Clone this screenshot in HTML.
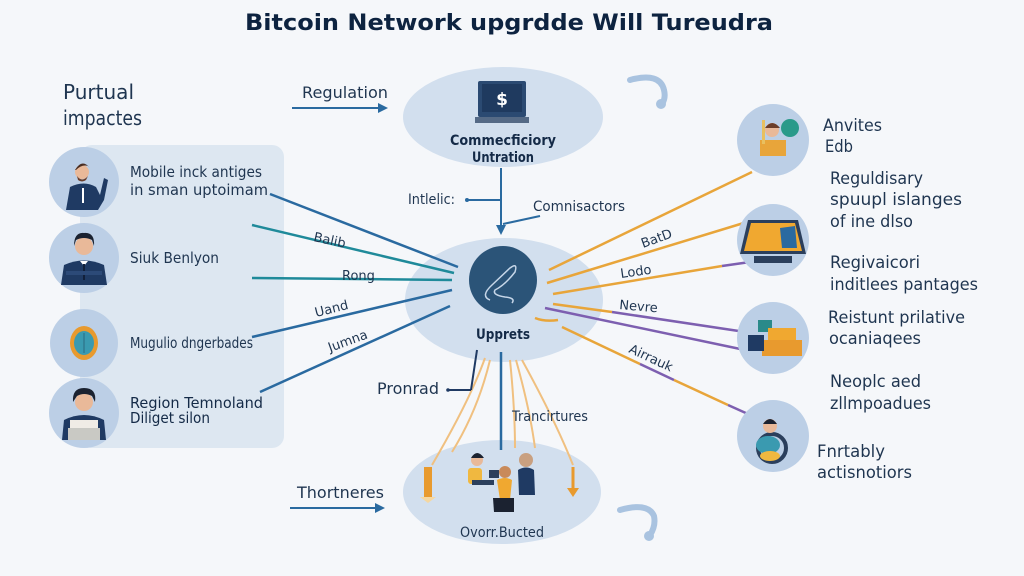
<!DOCTYPE html>
<html><head><meta charset="utf-8"><style>
html,body{margin:0;padding:0;background:#f5f7fa;}
svg{display:block;}
text{font-family:"DejaVu Sans","Liberation Sans",sans-serif;fill:#1f3550;}
</style></head><body>
<svg width="1024" height="576" viewBox="0 0 1024 576" xmlns="http://www.w3.org/2000/svg">
<defs>
<marker id="ah" markerWidth="10" markerHeight="10" refX="8" refY="5" orient="auto" markerUnits="userSpaceOnUse"><path d="M0,0 L10,5 L0,10 Z" fill="#2a6aa0"/></marker>
<marker id="ao" markerWidth="10" markerHeight="10" refX="8" refY="5" orient="auto" markerUnits="userSpaceOnUse"><path d="M0,0 L10,5 L0,10 Z" fill="#e8a53a"/></marker>
</defs>
<rect width="1024" height="576" fill="#f5f7fa"/>

<!-- Title -->
<text x="509" y="30" text-anchor="middle" font-size="22" font-weight="bold" style="fill:#0d2340" textLength="528" lengthAdjust="spacingAndGlyphs">Bitcoin Network upgrdde Will Tureudra</text>

<!-- Left header -->
<text x="63" y="99" font-size="20" textLength="71" lengthAdjust="spacingAndGlyphs">Purtual</text>
<text x="63" y="125" font-size="20" textLength="79" lengthAdjust="spacingAndGlyphs">impactes</text>

<!-- Regulation arrow -->
<text x="302" y="98" font-size="16" textLength="86" lengthAdjust="spacingAndGlyphs">Regulation</text>
<line x1="292" y1="108" x2="386" y2="108" stroke="#2a6aa0" stroke-width="2" marker-end="url(#ah)"/>

<!-- Left panel -->
<rect x="80" y="145" width="204" height="303" rx="12" fill="#dde7f1"/>

<!-- Left circles -->
<circle cx="84" cy="182" r="35" fill="#bccfe6"/>
<circle cx="84" cy="258" r="35" fill="#bccfe6"/>
<circle cx="84" cy="343" r="34" fill="#bccfe6"/>
<circle cx="84" cy="413" r="35" fill="#bccfe6"/>

<!-- person 1 -->
<path d="M66,210 L70,187 Q84,180 96,187 L100,195 L104,178 L108,180 L104,200 L98,210 Z" fill="#1f3a63"/>
<circle cx="82" cy="172" r="7" fill="#e9b999"/>
<path d="M75,170 Q82,158 90,168 L88,166 Q82,164 76,170 Z" fill="#4a2e22"/>
<path d="M77,176 Q82,183 88,176 L86,180 Q82,183 78,180 Z" fill="#6b3e2a"/>
<line x1="83" y1="188" x2="83" y2="203" stroke="#fff" stroke-width="2"/>
<!-- person 2 -->
<path d="M61,285 L64,265 Q84,256 104,265 L107,285 Z" fill="#1f3a63"/>
<circle cx="84" cy="246" r="9" fill="#e9b999"/>
<path d="M74,246 Q74,232 84,233 Q95,232 94,246 L92,240 Q84,236 76,240 Z" fill="#1b2230"/>
<path d="M80,261 L84,266 L88,261 Z" fill="#fff"/>
<line x1="84" y1="264" x2="84" y2="280" stroke="#12203a" stroke-width="2"/>
<rect x="66" y="271" width="36" height="4" fill="#2c4a78"/>
<!-- gear icon -->
<ellipse cx="84" cy="343" rx="14" ry="17" fill="#e89a2e"/>
<ellipse cx="84" cy="343" rx="10" ry="12" fill="#3a9ab0"/>
<line x1="84" y1="333" x2="84" y2="353" stroke="#2a6a80" stroke-width="1"/>
<!-- person 4 -->
<path d="M62,440 L64,420 Q84,410 104,420 L106,440 Z" fill="#1f3a63"/>
<rect x="70" y="420" width="28" height="20" fill="#f0ece6"/>
<rect x="68" y="428" width="32" height="12" fill="#c9c9c4"/>
<circle cx="84" cy="402" r="9" fill="#e9b999"/>
<path d="M73,402 Q72,388 84,388 Q97,388 95,402 L92,396 Q84,392 77,396 Z" fill="#1b2230"/>

<!-- Left texts -->
<text x="130" y="177" font-size="15" textLength="132" lengthAdjust="spacingAndGlyphs">Mobile inck antiges</text>
<text x="130" y="195" font-size="15" textLength="138" lengthAdjust="spacingAndGlyphs">in sman uptoimam</text>
<text x="130" y="263" font-size="15" textLength="89" lengthAdjust="spacingAndGlyphs">Siuk Benlyon</text>
<text x="130" y="348" font-size="15" textLength="123" lengthAdjust="spacingAndGlyphs">Mugulio dngerbades</text>
<text x="130" y="408" font-size="15" textLength="133" lengthAdjust="spacingAndGlyphs" style="fill:#142a47">Region Temnoland</text>
<text x="130" y="423" font-size="15" textLength="80" lengthAdjust="spacingAndGlyphs" style="fill:#142a47">Diliget silon</text>

<!-- Top ellipse -->
<ellipse cx="503" cy="117" rx="100" ry="50" fill="#d2dfee"/>
<rect x="478" y="81" width="48" height="36" rx="2" fill="#2b4a72"/>
<rect x="482" y="84" width="40" height="28" fill="#1f3a5f"/>
<text x="502" y="105" text-anchor="middle" font-size="17" font-weight="bold" style="fill:#fff">$</text>
<rect x="475" y="117" width="54" height="6" fill="#556a86"/>
<text x="503" y="145" text-anchor="middle" font-size="14" font-weight="bold" style="fill:#142a47" textLength="106" lengthAdjust="spacingAndGlyphs">Commecficiory</text>
<text x="503" y="162" text-anchor="middle" font-size="14" font-weight="bold" style="fill:#142a47" textLength="62" lengthAdjust="spacingAndGlyphs">Untration</text>

<!-- hooks -->
<path d="M630,80 Q660,72 664,90 Q666,98 662,104" fill="none" stroke="#a9c3e0" stroke-width="6" stroke-linecap="round"/>
<circle cx="661" cy="104" r="5" fill="#a9c3e0"/>
<path d="M620,510 Q648,502 654,516 Q656,526 650,535" fill="none" stroke="#a9c3e0" stroke-width="6" stroke-linecap="round"/>
<circle cx="649" cy="536" r="5" fill="#a9c3e0"/>

<!-- vertical connector -->
<line x1="501" y1="168" x2="501" y2="233" stroke="#2a6aa0" stroke-width="2" marker-end="url(#ah)"/>
<text x="408" y="204" font-size="14" textLength="47" lengthAdjust="spacingAndGlyphs">Intlelic:</text>
<line x1="467" y1="200" x2="500" y2="200" stroke="#2a6aa0" stroke-width="2"/>
<circle cx="467" cy="200" r="2" fill="#2a6aa0"/>
<text x="533" y="211" font-size="14" textLength="92" lengthAdjust="spacingAndGlyphs">Comnisactors</text>
<line x1="503" y1="224" x2="540" y2="216" stroke="#2a6aa0" stroke-width="2"/>

<!-- Center ellipse -->
<ellipse cx="504" cy="300" rx="99" ry="62" fill="#d2dfee"/>
<circle cx="503" cy="280" r="34" fill="#2b5478"/>
<path d="M490,300 Q480,296 492,285 L510,268 Q518,262 515,272 Q505,285 495,290 Q492,295 505,297 Q516,298 512,303" fill="none" stroke="#c6d6e8" stroke-width="1.5"/>
<text x="503" y="339" text-anchor="middle" font-size="14" font-weight="bold" style="fill:#142a47" textLength="54" lengthAdjust="spacingAndGlyphs">Upprets</text>

<!-- Left connectors -->
<line x1="270" y1="194" x2="458" y2="267" stroke="#2a6aa0" stroke-width="2.5"/>
<line x1="252" y1="225" x2="454" y2="273" stroke="#1f8a9a" stroke-width="2.5"/>
<line x1="252" y1="278" x2="452" y2="280" stroke="#1f8a9a" stroke-width="2.5"/>
<line x1="252" y1="337" x2="452" y2="290" stroke="#2a6aa0" stroke-width="2.5"/>
<line x1="260" y1="392" x2="450" y2="306" stroke="#2a6aa0" stroke-width="2.5"/>
<text x="313" y="241" font-size="13" transform="rotate(12 313 241)">Balib</text>
<text x="342" y="280" font-size="13">Rong</text>
<text x="316" y="317" font-size="13" transform="rotate(-14 316 317)">Uand</text>
<text x="330" y="352" font-size="13" transform="rotate(-20 330 352)">Jumna</text>

<!-- Right connectors -->
<line x1="752" y1="172" x2="549" y2="270" stroke="#e8a53a" stroke-width="2.5"/>
<line x1="747" y1="222" x2="547" y2="283" stroke="#e8a53a" stroke-width="2.5"/>
<line x1="553" y1="294" x2="722" y2="266" stroke="#e8a53a" stroke-width="2.5"/>
<line x1="722" y1="266" x2="750" y2="262" stroke="#7d5fb0" stroke-width="2.5"/>
<line x1="553" y1="304" x2="612" y2="312" stroke="#e8a53a" stroke-width="2.5"/>
<line x1="612" y1="312" x2="752" y2="333" stroke="#7d5fb0" stroke-width="2.5"/>
<line x1="545" y1="308" x2="745" y2="350" stroke="#7d5fb0" stroke-width="2.5"/>
<line x1="562" y1="327" x2="640" y2="364" stroke="#e8a53a" stroke-width="2.5"/>
<line x1="640" y1="364" x2="674" y2="380" stroke="#7d5fb0" stroke-width="2.5"/>
<line x1="674" y1="380" x2="728" y2="405" stroke="#e8a53a" stroke-width="2.5"/>
<line x1="728" y1="405" x2="748" y2="414" stroke="#7d5fb0" stroke-width="2.5"/>
<path d="M535,318 Q545,322 558,320" fill="none" stroke="#e8a53a" stroke-width="2.5"/>
<text x="643" y="248" font-size="13" transform="rotate(-20 643 248)">BatD</text>
<text x="621" y="278" font-size="13" transform="rotate(-8 621 278)">Lodo</text>
<text x="619" y="309" font-size="13" transform="rotate(5 619 309)">Nevre</text>
<text x="628" y="352" font-size="13" transform="rotate(25 628 352)">Airrauk</text>

<!-- Right circles -->
<circle cx="773" cy="140" r="36" fill="#bccfe6"/>
<circle cx="773" cy="240" r="36" fill="#bccfe6"/>
<circle cx="773" cy="338" r="36" fill="#bccfe6"/>
<circle cx="773" cy="436" r="36" fill="#bccfe6"/>
<!-- icon 1 -->
<rect x="760" y="140" width="26" height="16" fill="#e8a53a"/>
<circle cx="772" cy="130" r="7" fill="#e9b999"/>
<path d="M765,128 Q772,118 780,128 Z" fill="#6b3e2a"/>
<circle cx="790" cy="128" r="9" fill="#2a9a8a"/>
<rect x="762" y="120" width="3" height="24" fill="#e8c060"/>
<!-- icon 2 -->
<path d="M748,220 L798,220 L806,254 L740,254 Z" fill="#2b3f5c"/>
<path d="M751,223 L795,223 L802,251 L744,251 Z" fill="#f0a830"/>
<path d="M780,228 L795,226 L797,248 L782,248 Z" fill="#2a6aa0"/>
<rect x="754" y="256" width="38" height="7" fill="#2b3f5c"/>
<!-- icon 3 -->
<rect x="758" y="320" width="14" height="12" fill="#2a8a8a"/>
<rect x="768" y="328" width="28" height="14" fill="#f0a830"/>
<rect x="762" y="340" width="40" height="16" fill="#e89a2e"/>
<rect x="748" y="335" width="16" height="16" fill="#1f3a63"/>
<!-- icon 4 -->
<circle cx="772" cy="448" r="14" fill="none" stroke="#2b3f5c" stroke-width="4"/>
<ellipse cx="768" cy="445" rx="12" ry="9" fill="#3a9ab0"/>
<ellipse cx="770" cy="456" rx="10" ry="5" fill="#f0b840"/>
<circle cx="770" cy="426" r="7" fill="#e9b999"/>
<path d="M763,424 Q770,414 777,424 Z" fill="#1b2230"/>

<!-- Right texts -->
<text x="823" y="131" font-size="17" textLength="59" lengthAdjust="spacingAndGlyphs">Anvites</text>
<text x="825" y="152" font-size="17" textLength="28" lengthAdjust="spacingAndGlyphs">Edb</text>
<text x="830" y="184" font-size="17" textLength="93" lengthAdjust="spacingAndGlyphs">Reguldisary</text>
<text x="830" y="205" font-size="17" textLength="132" lengthAdjust="spacingAndGlyphs">spuupl islanges</text>
<text x="830" y="227" font-size="17" textLength="83" lengthAdjust="spacingAndGlyphs">of ine dlso</text>
<text x="830" y="268" font-size="17" textLength="90" lengthAdjust="spacingAndGlyphs">Regivaicori</text>
<text x="830" y="290" font-size="17" textLength="148" lengthAdjust="spacingAndGlyphs">inditlees pantages</text>
<text x="828" y="323" font-size="17" textLength="137" lengthAdjust="spacingAndGlyphs">Reistunt prilative</text>
<text x="829" y="344" font-size="17" textLength="92" lengthAdjust="spacingAndGlyphs">ocaniaqees</text>
<text x="830" y="387" font-size="17" textLength="91" lengthAdjust="spacingAndGlyphs">Neoplc aed</text>
<text x="830" y="409" font-size="17" textLength="101" lengthAdjust="spacingAndGlyphs">zllmpoadues</text>
<text x="817" y="457" font-size="17" textLength="68" lengthAdjust="spacingAndGlyphs">Fnrtably</text>
<text x="817" y="478" font-size="17" textLength="95" lengthAdjust="spacingAndGlyphs">actisnotiors</text>

<!-- Bottom ellipse -->
<ellipse cx="502" cy="492" rx="99" ry="52" fill="#d2dfee"/>
<!-- bottom connectors (orange thin) -->
<path d="M485,358 Q470,400 432,465" fill="none" stroke="#f0c080" stroke-width="2"/>
<path d="M490,360 Q478,410 452,452" fill="none" stroke="#f0c080" stroke-width="2"/>
<path d="M510,360 Q515,410 515,448" fill="none" stroke="#f0c080" stroke-width="2"/>
<path d="M516,360 Q530,410 535,448" fill="none" stroke="#f0c080" stroke-width="2"/>
<path d="M522,360 Q555,420 573,465" fill="none" stroke="#f0c080" stroke-width="2"/>
<line x1="501" y1="352" x2="501" y2="450" stroke="#2a6aa0" stroke-width="2.5"/>
<!-- Pronrad -->
<text x="377" y="394" font-size="16" textLength="62" lengthAdjust="spacingAndGlyphs">Pronrad</text>
<line x1="448" y1="390" x2="471" y2="390" stroke="#1f3a63" stroke-width="2"/>
<line x1="471" y1="390" x2="477" y2="350" stroke="#1f3a63" stroke-width="2"/>
<circle cx="448" cy="390" r="1.8" fill="#1f3a63"/>
<text x="512" y="421" font-size="14" textLength="76" lengthAdjust="spacingAndGlyphs">Trancirtures</text>
<!-- orange arrows -->
<rect x="424" y="467" width="8" height="30" fill="#e89a2e"/>
<path d="M420,497 L436,497 L428,503 Z" fill="#f5d7a0"/>
<line x1="573" y1="467" x2="573" y2="492" stroke="#e89a2e" stroke-width="3"/>
<path d="M567,488 L579,488 L573,497 Z" fill="#e89a2e"/>
<!-- people in bottom ellipse -->
<circle cx="477" cy="460" r="6" fill="#e9b999"/>
<path d="M471,458 Q477,448 484,458 Z" fill="#1b2230"/>
<rect x="468" y="468" width="14" height="16" rx="3" fill="#f0b840"/>
<rect x="472" y="480" width="22" height="5" fill="#2b3f5c"/>
<rect x="489" y="470" width="10" height="8" fill="#2b3f5c"/>
<circle cx="526" cy="460" r="7" fill="#c9a080"/>
<path d="M518,470 Q526,465 534,470 L535,495 L519,495 Z" fill="#1f3a63"/>
<circle cx="505" cy="472" r="6" fill="#c98a5a"/>
<path d="M497,480 Q505,476 512,480 L510,500 L500,500 Z" fill="#f0a830"/>
<path d="M493,498 L514,498 L514,512 L494,512 Z" fill="#1b2230"/>
<text x="502" y="537" text-anchor="middle" font-size="14" textLength="84" lengthAdjust="spacingAndGlyphs">Ovorr.Bucted</text>

<!-- Thortneres arrow -->
<text x="297" y="498" font-size="16" textLength="87" lengthAdjust="spacingAndGlyphs">Thortneres</text>
<line x1="290" y1="508" x2="383" y2="508" stroke="#2a6aa0" stroke-width="2" marker-end="url(#ah)"/>
</svg>
</body></html>
